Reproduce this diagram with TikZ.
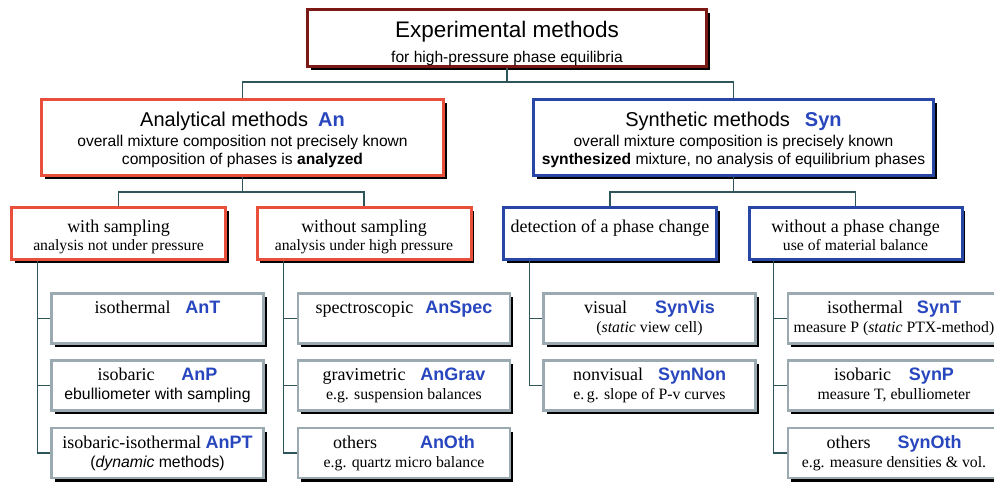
\documentclass[tikz,border=0pt]{standalone}
\usepackage{fontspec}
\setmainfont{Liberation Serif}
\newfontfamily\arialf{Liberation Sans}
\usetikzlibrary{shadows}
\definecolor{topred}{RGB}{125,25,20}
\definecolor{anred}{RGB}{232,80,60}
\definecolor{synblue}{RGB}{40,70,165}
\definecolor{codeblue}{RGB}{40,70,190}
\definecolor{leafgray}{RGB}{155,170,176}
\definecolor{connc}{RGB}{45,85,90}
\newcommand\code[1]{{\arialf\bfseries\color{codeblue}#1}}
\begin{document}
\begin{tikzpicture}[x=1pt,y=-1pt,
  shadowed/.style={fill=white, inner sep=0pt, drop shadow={shadow xshift=3pt, shadow yshift=-3.5pt, opacity=1, fill=black}},
  topbox/.style={shadowed, draw=topred, line width=3pt, minimum width=399pt, minimum height=57pt},
  anbox/.style={shadowed, draw=anred, line width=3pt, minimum width=402pt, minimum height=76pt},
  synbox/.style={shadowed, draw=synblue, line width=3pt, minimum width=400pt, minimum height=76pt},
  antwo/.style={shadowed, draw=anred, line width=3pt, minimum width=214pt, minimum height=52pt},
  syntwo/.style={shadowed, draw=synblue, line width=3pt, minimum width=213pt, minimum height=52pt},
  leaf/.style={shadowed, draw=leafgray, line width=2.5pt, minimum width=212pt, minimum height=50pt},
  txt/.style={anchor=base, inner sep=0pt},
  bigsans/.style={txt, font=\arialf\fontsize{22.5}{24}\selectfont},
  midsans/.style={txt, font=\arialf\fontsize{20}{22}\selectfont},
  subsans/.style={txt, font=\arialf\fontsize{15.6}{18}\selectfont},
  lvtwo/.style={txt, font=\fontsize{18}{20}\selectfont},
  lvtwosub/.style={txt, font=\fontsize{15.7}{18}\selectfont},
  leafmain/.style={txt, font=\fontsize{18}{20}\selectfont},
  leafsub/.style={txt, font=\fontsize{15.8}{18}\selectfont},
  leafsubsans/.style={txt, font=\arialf\fontsize{15.8}{18}\selectfont},
  conn/.style={draw=connc, line width=1.4pt}
]
\useasboundingbox (0,0) rectangle (994,482);
\clip (0,0) rectangle (994,482);
\fill[white] (0,0) rectangle (994,482);

% level 0
\node[topbox] (top) at (507,38) {};
\node[bigsans] (topa) at ([yshift=1pt]top.center) {Experimental methods};
\node[subsans] (topb) at ([yshift=-24pt]top.center) {for high-pressure phase equilibria};

% level 1
\node[anbox] (an) at (242.5,137.5) {};
\node[midsans] (ana) at ([yshift=11.5pt]an.center) {Analytical methods\hspace{10pt}\code{An}};
\node[subsans] (anb) at ([yshift=-9pt]an.center) {overall mixture composition not precisely known};
\node[subsans] (anc) at ([yshift=-26.5pt]an.center) {composition of phases is \textbf{analyzed}};

\node[synbox] (syn) at (733.5,137.5) {};
\node[midsans] (syna) at ([yshift=11.5pt]syn.center) {Synthetic methods\hspace{15pt}\code{Syn}};
\node[subsans] (synb) at ([yshift=-9pt]syn.center) {overall mixture composition is precisely known};
\node[subsans] (sync) at ([yshift=-26.5pt]syn.center) {\textbf{synthesized} mixture, no analysis of equilibrium phases};

% level 2
\node[antwo] (ws) at (118.5,233.5) {};
\node[lvtwo] (wsa) at ([yshift=1.5pt]ws.center) {with sampling};
\node[lvtwosub] (wsb) at ([yshift=-16.5pt]ws.center) {analysis not under pressure};

\node[antwo] (wos) at (364,233.5) {};
\node[lvtwo] (wosa) at ([yshift=1.5pt]wos.center) {without sampling};
\node[lvtwosub] (wosb) at ([yshift=-16.5pt]wos.center) {analysis under high pressure};

\node[syntwo] (det) at (610,233.5) {};
\node[lvtwo] (deta) at ([yshift=1.5pt]det.center) {detection of a phase change};

\node[syntwo] (wop) at (855.5,233.5) {};
\node[lvtwo] (wopa) at ([yshift=1.5pt]wop.center) {without a phase change};
\node[lvtwosub] (wopb) at ([yshift=-16.5pt]wop.center) {use of material balance};

% level 3 - column 1
\node[leaf] (a1) at (157.5,318.5) {};
\node[leafmain] (a1a) at ([yshift=5pt]a1.center) {isothermal\hspace{15pt}\code{AnT}};
\node[leaf] (a2) at (157.5,385.5) {};
\node[leafmain] (a2a) at ([yshift=5pt]a2.center) {isobaric\hspace{27pt}\code{AnP}};
\node[leafsubsans] (a2b) at ([yshift=-14pt]a2.center) {ebulliometer with sampling};
\node[leaf] (a3) at (157.5,453) {};
\node[leafmain] (a3a) at ([yshift=5pt]a3.center) {isobaric-isothermal \code{AnPT}};
\node[leafsubsans] (a3b) at ([yshift=-14pt]a3.center) {(\textit{dynamic} methods)};

% column 2
\node[leaf] (b1) at (404,318.5) {};
\node[leafmain] (b1a) at ([yshift=5pt]b1.center) {spectroscopic\hspace{12pt}\code{AnSpec}};
\node[leaf] (b2) at (404,385.5) {};
\node[leafmain] (b2a) at ([yshift=5pt]b2.center) {gravimetric\hspace{15pt}\code{AnGrav}};
\node[leafsub] (b2b) at ([yshift=-14pt]b2.center) {e.g. suspension balances};
\node[leaf] (b3) at (404,453) {};
\node[leafmain] (b3a) at ([yshift=5pt]b3.center) {others\hspace{43pt}\code{AnOth}};
\node[leafsub] (b3b) at ([yshift=-14pt]b3.center) {e.g. quartz micro balance};

% column 3
\node[leaf] (c1) at (649.5,318.5) {};
\node[leafmain] (c1a) at ([yshift=5pt]c1.center) {visual\hspace{28pt}\code{SynVis}};
\node[leafsub] (c1b) at ([yshift=-14pt]c1.center) {(\textit{static} view cell)};
\node[leaf] (c2) at (649.5,385.5) {};
\node[leafmain] (c2a) at ([yshift=5pt]c2.center) {nonvisual\hspace{15pt}\code{SynNon}};
\node[leafsub] (c2b) at ([yshift=-14pt]c2.center) {e.\,g. slope of P-v curves};

% column 4
\node[leaf] (d1) at (894,318.5) {};
\node[leafmain] (d1a) at ([yshift=5pt]d1.center) {isothermal\hspace{14pt}\code{SynT}};
\node[leafsub] (d1b) at ([yshift=-14pt]d1.center) {measure P (\textit{static} PTX-method)};
\node[leaf] (d2) at (894,385.5) {};
\node[leafmain] (d2a) at ([yshift=5pt]d2.center) {isobaric\hspace{18pt}\code{SynP}};
\node[leafsub] (d2b) at ([yshift=-14pt]d2.center) {measure T, ebulliometer};
\node[leaf] (d3) at (894,453) {};
\node[leafmain] (d3a) at ([yshift=5pt]d3.center) {others\hspace{27pt}\code{SynOth}};
\node[leafsub] (d3b) at ([yshift=-14pt]d3.center) {e.g. measure densities \& vol.};

% connectors
\draw[conn] (top.south) -- ++(0,14) coordinate (j0);
\draw[conn] (j0) -| (an.north);
\draw[conn] (j0) -| (syn.north);
\draw[conn] (an.south) -- ++(0,15) coordinate (j1);
\draw[conn] (j1) -| (ws.north);
\draw[conn] (j1) -| (wos.north);
\draw[conn] (syn.south) -- ++(0,15) coordinate (j2);
\draw[conn] (j2) -| (det.north);
\draw[conn] (j2) -| (wop.north);

\coordinate (k1) at ([xshift=-13pt]a1.west);
\coordinate (k2) at ([xshift=-13pt]b1.west);
\coordinate (k3) at ([xshift=-13pt]c1.west);
\coordinate (k4) at ([xshift=-13pt]d1.west);
\draw[conn] (k1 |- ws.south) |- (a1.west);
\draw[conn] (k1 |- ws.south) |- (a2.west);
\draw[conn] (k1 |- ws.south) |- (a3.west);
\draw[conn] (k2 |- wos.south) |- (b1.west);
\draw[conn] (k2 |- wos.south) |- (b2.west);
\draw[conn] (k2 |- wos.south) |- (b3.west);
\draw[conn] (k3 |- det.south) |- (c1.west);
\draw[conn] (k3 |- det.south) |- (c2.west);
\draw[conn] (k4 |- wop.south) |- (d1.west);
\draw[conn] (k4 |- wop.south) |- (d2.west);
\draw[conn] (k4 |- wop.south) |- (d3.west);
\end{tikzpicture}
\end{document}
